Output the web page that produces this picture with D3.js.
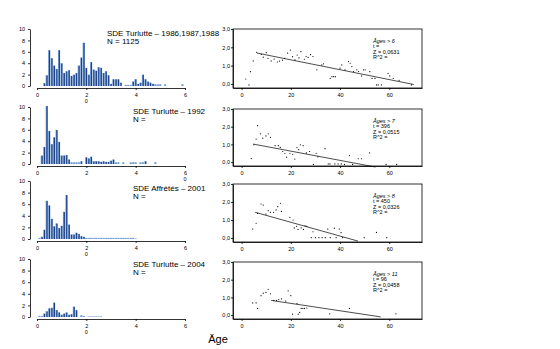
<!DOCTYPE html>
<html>
<head>
<meta charset="utf-8">
<script src="https://cdn.jsdelivr.net/npm/d3@7"></script>
<style>
  html, body { margin: 0; padding: 0; background: #fff; }
  svg { display: block; font-family: "Liberation Sans", Arial, sans-serif; }
  .axis path, .axis line { stroke: #000; stroke-width: 0.8; }
  .axis text { font-size: 5.5px; fill: #000; }
</style>
</head>
<body>
<script>
// histogram bins: index i = age i/10 (bin width 0.1)
const hist1 = [0,0,0,0.5,1.9,6.3,4.9,3.6,3.0,6.3, 4.0,2.3,2.6,2.8,1.8,2.0,2.3,3.6,5.0,7.6,
  3.2,2.0,4.2,2.9,2.7,3.3,3.2,2.3,2.6,1.9, 0.4,1.2,1.2,1.2,0.6,0,0.2,0.2,0.2,0.8,
  1.2,0.4,0.6,2.0,1.2,0.8,0.6,0.4,0.3,0.3, 0.3,0,0.3,0,0,0,0,0,0,0.3,0];
const hist2 = [0,0,1.5,3.0,10.2,5.8,3.5,4.7,6.0,3.9, 1.5,1.5,1.6,0.8,0.3,0.3,0.3,0.3,0.5,0,
  1.2,1.0,1.3,0.5,0.5,0.5,0.4,0.5,0.4,0.4, 0.6,0.8,0.3,0.3,0,0.3,0,0,0.3,0.3,
  0.3,0,0.3,0.3,0.5,0,0,0,0.3,0, 0,0,0,0,0,0,0,0,0,0,0];
const hist3 = [0,0.2,0.4,1.6,6.6,5.8,3.5,2.2,2.7,1.9, 2.3,4.7,7.6,2.5,0.8,0.8,1.1,0.9,0.5,0.4,
  0.2,0.2,0.2,0.2,0.2,0.2,0.2,0.2,0.2,0.2, 0.2,0.2,0.2,0.2,0.2,0.2,0.2,0.2,0.2,0.2,
  0.1,0,0,0,0,0,0,0,0,0, 0,0,0,0,0,0,0,0,0,0,0];
const hist4 = [0,0.2,0.2,0.6,1.0,1.5,1.6,2.5,1.2,0.8, 0.4,0.6,0.8,0.4,0.5,1.8,1.2,0,0.3,0.2,
  0,0.1,0.1,0.1,0.1,0.1,0.1,0,0,0, 0,0,0,0,0,0,0,0,0,0,
  0,0,0,0,0,0,0,0,0,0, 0,0,0,0,0,0,0,0,0,0,0];

const titles = ['SDE Turlutte \u2013 1986,1987,1988', 'SDE Turlutte \u2013 1992', 'SDE Affr\u00e9t\u00e9s \u2013 2001', 'SDE Turlutte \u2013 2004'];
const counts = ['N = 1125', 'N =', 'N =', 'N ='];

const histTicks = [0, 2, 4, 6];
const histYTicks = [0, 2, 4, 6, 8, 10];
const ageTicks = [0, 20, 40, 60];
const growthTicks = [0, 1, 2, 3];

// scatter points [age, value]
const scatter1 = [[1.7,0.27],[3,-0.05],[3.6,0.67],[4.7,1.26],[6.1,1.73],[8,1.62],[8.8,1.46],[10,1.71],[10.7,1.4],[12,1.26],
  [13.2,1.36],[14.5,1.2],[15.4,1.25],[16.6,1.3],[17.5,1.4],[18.7,1.68],[19.8,1.85],[20.7,1.49],[21.7,1.31],[22.6,1.58],
  [23.3,1.42],[24.1,1.76],[25.5,1.35],[26.2,1.5],[27,1.45],[28,1.6],[29,1.5],[30.6,0.77],[32.6,1.04],[33.3,1.1],
  [36,0.31],[36.7,0.4],[37.4,0.4],[38.1,0.4],[40,0.86],[40.7,1.04],[42,0.77],[43.4,1.22],[44.1,1.13],[44.8,0.95],
  [45.5,0.68],[46.8,0.77],[47.5,0.68],[48.8,0.44],[49.5,0.77],[50.2,0.77],[52.1,0.67],[53,0.3],[54.2,0.3],[54.8,-0.05],
  [55.5,-0.05],[56.8,-0.05],[59.5,0.58],[60.2,0.44],[61.6,0.31],[64,0.2],[69,-0.05]];
const scatter2 = [[3.9,0.2],[5,0.98],[5.9,1.3],[6.5,2.06],[7.7,1.6],[8.6,1.35],[9.9,1.48],[10.8,1.6],[11.7,1.4],[13.6,0.93],
  [14.9,0.93],[15.7,0.83],[16.7,0.6],[17.6,0.5],[18.3,0.28],[19.6,0.5],[20.8,0.44],[21.6,0.17],[22.5,0.82],[23.2,0.7],
  [23.9,0.98],[25,0.93],[26.3,0.52],[27.6,0.6],[29.2,-0.13],[30.3,0.5],[31,0.3],[33.9,0.76],[35.2,-0.1],[35.9,-0.1],
  [37.9,-0.1],[39.2,-0.1],[40.5,-0.1],[41.8,-0.13],[43.8,0.37],[45.1,-0.13],[47.4,0.19],[48.7,0.19],[52,0.52],
  [58.7,-0.13],[63,-0.13]];
const scatter3 = [[4.5,0.5],[5.9,0.82],[6.5,1.37],[7.9,1.89],[8.8,1.83],[9.9,1.33],[10.8,1.52],[11.7,1.43],[13,1.43],[14,1.56],
  [14.7,1.74],[15.8,1.93],[16.2,1.48],[19.6,1.15],[20.9,1.0],[21.4,0.56],[22.3,0.65],[22.9,0.48],[24.2,0.56],[25.1,0.48],
  [25.8,0.68],[26.5,0.65],[28.3,0.02],[29,0.35],[30,0.02],[31.4,0.02],[32.7,0.02],[34,0.02],[35,0.5],[36,0.02],
  [37.7,0.55],[38.4,0.02],[39.7,0.5],[40.4,0.3],[41,0.02],[49.8,0.02],[54.8,0.31],[59,0.02]];
const scatter4 = [[4.5,0.69],[5.9,0.69],[6.5,0.38],[7.9,1.1],[8.8,1.24],[9.9,1.28],[10.8,1.46],[11.7,1.2],[13.1,0.83],[14.2,0.83],
  [15.1,0.88],[16.2,0.92],[17.9,0.79],[18.9,1.37],[20,1.1],[20.7,0.05],[22.5,0.65],[23,0.05],[23.6,0.15],[24.2,0.38],
  [24.9,0.38],[25.6,0.38],[26.5,0.4],[35.8,0.07],[43.8,0.38],[62.7,0.07]];

// fitted lines: [age1, value1, age2, value2]
const fits = [[6.2,1.69,70,-0.03],[4.7,1.02,54.4,-0.28],[5.5,1.43,47.3,-0.17],[12,0.83,56.5,-0.1]];

const stats = [
  ['\u00c2ges > 6', 't =', 'Z = 0,0631', 'R^2 ='],
  ['\u00c2ges > 7', 't = 396', 'Z = 0,0515', 'R^2 ='],
  ['\u00c2ges > 8', 't = 450', 'Z = 0,0326', 'R^2 ='],
  ['\u00c2ges > 11', 't = 96', 'Z = 0,0458', 'R^2 =']
];

const hists = [hist1, hist2, hist3, hist4];
const scatters = [scatter1, scatter2, scatter3, scatter4];

// layout (pixels)
const rows = [
  { y10: 29, y0: 86, titleX: 107, titleY: 36, rTop: 29, rBot: 88, extra: 2 },
  { y10: 107, y0: 164, titleX: 133, titleY: 114, rTop: 109, rBot: 166, extra: 6 },
  { y10: 181, y0: 239, titleX: 133, titleY: 191, rTop: 184, rBot: 242, extra: 2 },
  { y10: 259, y0: 317, titleX: 133, titleY: 267, rTop: 262, rBot: 319, extra: 2 }
];

const W = 560, H = 349;
const svg = d3.select('body').append('svg').attr('width', W).attr('height', H);
svg.append('rect').attr('width', W).attr('height', H).attr('fill', '#fff');

const hx = d3.scaleLinear().domain([0, 6]).range([37, 185]);
const sx = d3.scaleLinear().domain([-3.5, 73.3]).range([233, 422]);
const binW = hx(0.1) - hx(0);
const intFmt = d3.format('d');

rows.forEach((r, k) => {
  const g = svg.append('g');
  const hy = d3.scaleLinear().domain([0, 10]).range([r.y0, r.y10]);

  // bars
  const bars = g.selectAll('g.bar')
    .data(hists[k].map((v, i) => ({ x: i / 10, v })).filter(d => d.v > 0))
    .join('g').attr('class', 'bar');
  bars.append('rect')
    .attr('x', d => hx(d.x) - binW / 2)
    .attr('width', binW - 0.3)
    .attr('y', d => hy(d.v))
    .attr('height', d => hy(0) - hy(d.v))
    .attr('fill', '#7fa7d8');
  bars.append('rect')
    .attr('x', d => hx(d.x) - binW / 2 + 0.8)
    .attr('width', binW - 1.3)
    .attr('y', d => hy(d.v) + 0.3)
    .attr('height', d => Math.max(0, hy(0) - hy(d.v) - 0.3))
    .attr('fill', d => d.v < 0.35 ? '#6f9bd2' : '#1d3f85');

  // axes
  g.append('g').attr('class', 'axis')
    .attr('transform', `translate(30,0)`)
    .call(d3.axisLeft(hy).tickValues(histYTicks).tickFormat(intFmt).tickSize(2).tickSizeOuter(0).tickPadding(3));
  g.append('g').attr('class', 'axis')
    .attr('transform', `translate(0,${r.y0 + 2})`)
    .call(d3.axisBottom(hx).tickValues(histTicks).tickFormat(intFmt).tickSize(2).tickSizeOuter(0).tickPadding(3));
  g.append('text')
    .attr('x', hx(r.extra)).attr('y', r.y0 + 17)
    .attr('text-anchor', 'middle').attr('font-size', 5.5).text('0');

  // title
  g.append('text').attr('x', r.titleX).attr('y', r.titleY)
    .attr('font-size', 8).text(titles[k]);
  g.append('text').attr('x', r.titleX).attr('y', r.titleY + 8)
    .attr('font-size', 8).text(counts[k]);

  // right panel
  const ry = d3.scaleLinear().domain([-0.22, 3]).range([r.rBot, r.rTop]);
  g.append('rect')
    .attr('x', sx.range()[0]).attr('y', r.rTop)
    .attr('width', sx.range()[1] - sx.range()[0]).attr('height', r.rBot - r.rTop)
    .attr('fill', 'none').attr('stroke', '#000').attr('stroke-width', 0.8);
  g.append('g').attr('class', 'axis')
    .attr('transform', `translate(${sx.range()[0]},0)`)
    .call(d3.axisLeft(ry).tickValues(growthTicks).tickSize(2).tickSizeOuter(0).tickPadding(1)
      .tickFormat(d => d3.format('.1f')(d).replace('.', ',')));
  g.append('g').attr('class', 'axis')
    .attr('transform', `translate(0,${r.rBot})`)
    .call(d3.axisBottom(sx).tickValues(ageTicks).tickFormat(intFmt).tickSize(2).tickSizeOuter(0).tickPadding(3));

  g.selectAll('circle.pt').data(scatters[k]).join('circle')
    .attr('class', 'pt')
    .attr('cx', d => sx(d[0])).attr('cy', d => ry(d[1]))
    .attr('r', 0.6).attr('fill', '#000');

  const f = fits[k];
  g.append('line')
    .attr('x1', sx(f[0])).attr('y1', ry(f[1]))
    .attr('x2', sx(f[2])).attr('y2', ry(f[3]))
    .attr('stroke', '#000').attr('stroke-width', 0.7);

  g.selectAll('text.stat').data(stats[k]).join('text')
    .attr('class', 'stat')
    .attr('x', 373).attr('y', (d, i) => r.rTop + 13.5 + i * 5.6)
    .attr('font-size', 5.5).attr('font-style', (d, i) => i === 0 ? 'italic' : 'normal')
    .text(d => d);
});

svg.append('text').attr('x', 218).attr('y', 343)
  .attr('text-anchor', 'middle').attr('font-size', 11).text('\u00c4ge');
</script>
</body>
</html>
